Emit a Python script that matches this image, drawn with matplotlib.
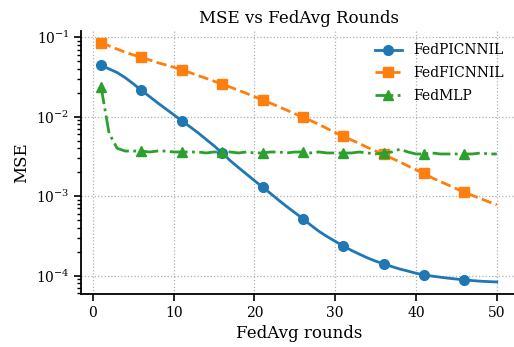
import matplotlib
matplotlib.use("Agg")
import matplotlib.pyplot as plt
import numpy as np

rounds = list(range(1, 51))

mse_pic = [0.0443, 0.040, 0.036, 0.031, 0.026, 0.0215, 0.0180, 0.0150, 0.0126, 0.0106,
           0.0089, 0.0075, 0.0063, 0.0052, 0.0043, 0.0035, 0.0028, 0.0023, 0.0019, 0.00157,
           0.0013, 0.00108, 0.00089, 0.00074, 0.00062, 0.00052, 0.00043, 0.00036, 0.00031, 0.00027,
           0.000236, 0.000208, 0.000186, 0.000167, 0.000152, 0.000141, 0.000130, 0.000121, 0.000114, 0.000107,
           0.000102, 0.0000985, 0.0000955, 0.0000928, 0.0000905, 0.0000885, 0.0000865, 0.0000850, 0.0000840, 0.0000832]

mse_fic = [0.0852, 0.078, 0.071, 0.065, 0.060, 0.0561, 0.052, 0.048, 0.045, 0.042,
           0.0389, 0.036, 0.033, 0.0305, 0.028, 0.0258, 0.0236, 0.0216, 0.0197, 0.0179,
           0.0163, 0.0148, 0.0134, 0.0121, 0.0109, 0.00986, 0.0089, 0.0080, 0.0071, 0.0063,
           0.00566, 0.0051, 0.0046, 0.0041, 0.0037, 0.00335, 0.0030, 0.0027, 0.0024, 0.00215,
           0.00193, 0.0017, 0.00153, 0.00138, 0.00124, 0.00112, 0.00102, 0.00093, 0.00085, 0.00078]

mse_mlp = [0.024, 0.0062, 0.0040, 0.0037, 0.0037, 0.0037, 0.0036, 0.0037, 0.0037, 0.0036,
           0.0036, 0.0036, 0.0036, 0.0035, 0.0036, 0.0036, 0.0036, 0.0035, 0.0036, 0.0035,
           0.0035, 0.0036, 0.0036, 0.0035, 0.0036, 0.0036, 0.0035, 0.0036, 0.0035, 0.0035,
           0.0035, 0.0035, 0.0036, 0.0035, 0.0034, 0.0035, 0.0036, 0.0039, 0.0036, 0.0034,
           0.0034, 0.0035, 0.0034, 0.0034, 0.0034, 0.0034, 0.0034, 0.0035, 0.0034, 0.0034]

plt.rcParams['font.family'] = 'DejaVu Serif'

fig = plt.figure(figsize=(5.14, 3.47), dpi=100)
ax = fig.add_axes([0.158, 0.153, 0.847, 0.758])

ax.plot(rounds, mse_pic, color='tab:blue', linestyle='-', lw=2, marker='o', ms=7,
        markevery=5, label='FedPICNNIL')
ax.plot(rounds, mse_fic, color='tab:orange', linestyle='--', lw=2, marker='s', ms=7,
        markevery=5, label='FedFICNNIL')
ax.plot(rounds, mse_mlp, color='tab:green', linestyle='-.', lw=2, marker='^', ms=7,
        markevery=5, label='FedMLP')

ax.set_yscale('log')
ax.set_xticks([0, 10, 20, 30, 40, 50])
ax.grid(True, which='major', linestyle=':', color='#b0b0b0', lw=0.9)
ax.spines['top'].set_visible(False)
ax.spines['right'].set_visible(False)
for s in ['left', 'bottom']:
    ax.spines[s].set_linewidth(1.3)
ax.tick_params(axis='both', which='major', labelsize=10, width=1.2, length=5)
ax.tick_params(axis='y', which='minor', width=1.0, length=3)

ax.set_title('MSE vs FedAvg Rounds', fontsize=12)
ax.set_xlabel('FedAvg rounds', fontsize=12)
ax.set_ylabel('MSE', fontsize=12)
ax.legend(loc='upper right', frameon=False, fontsize=10, labelspacing=0.62)

fig.savefig('out.png', dpi=100)
